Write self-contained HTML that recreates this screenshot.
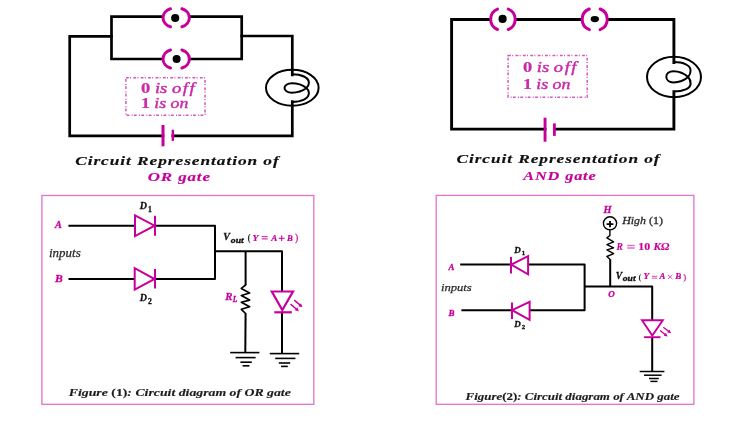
<!DOCTYPE html>
<html><head><meta charset="utf-8">
<style>
html,body{margin:0;padding:0;background:#fff;width:750px;height:430px;overflow:hidden}
svg{display:block;transform:translateZ(0)}
text{font-family:"Liberation Serif",serif;font-style:italic;font-weight:bold}
.m{fill:#c8009b}
.k{fill:#111}
.k2{fill:#1c1c1c;stroke:#1c1c1c;stroke-width:0.15}
.g{fill:#2a2a2a}
.w{stroke:#000;fill:none}
.mg{stroke:#c8009b;fill:none}
text.bx{font-weight:normal;fill:#c92aa6;stroke:#c92aa6;stroke-width:0.4}
tspan.up{font-style:normal;font-weight:bold;stroke-width:0.2}
text.th{stroke-width:0.3}
text.n{font-weight:normal}
text.u{font-style:normal}
text.k.th{stroke:#111}
text.m.th{stroke:#c8009b}
</style></head>
<body>
<svg width="750" height="430" viewBox="0 0 750 430">
<defs>
  <path id="fil" d="M-0.3,-13.5 C9,-13.5 16.6,-10.5 16.6,-5 C16.6,-2.7 15.5,-1 14.1,0.2 C10.5,3 5,4.9 -0.5,4.9 C-5,4.9 -7.8,2.6 -7.8,0.2 C-7.8,-2.2 -5,-4.5 -0.5,-4.5 C5,-4.5 10.5,-2.6 14.1,0.2 C15.5,1.3 16.6,3 16.6,5.3 C16.6,11 9,14.2 -0.3,14.2"/>
  <path id="fil2" d="M-0.3,-14.7 C9.5,-14.7 16.6,-11.5 16.6,-6.3 C16.6,-3.5 15.5,-1.3 14.1,0.2 C10.5,3.5 5,5.6 -0.5,5.6 C-5,5.6 -7.7,3 -7.7,0 C-7.7,-3 -5,-5.6 -0.5,-5.6 C5,-5.6 10.5,-3.2 14.1,0.2 C15.5,1.6 16.6,4 16.6,7 C16.6,11.5 9.5,14.8 -0.3,14.8"/>
</defs>

<!-- ===== OR circuit (top-left) ===== -->
<g class="w" stroke-width="2.7" stroke-linecap="square">
  <!-- outer loop -->
  <polyline points="111.5,36.3 69.7,36.3 69.7,135.8 163,135.8"/>
  <polyline points="172.8,135.8 292.3,135.8 292.3,101.5"/>
  <polyline points="241.7,36 292.3,36 292.3,74.8"/>
  <!-- inner parallel box -->
  <polyline points="162,16.7 111.5,16.7 111.5,59 162,59"/>
  <polyline points="190,16.7 241.7,16.7 241.7,59 190,59"/>
</g>
<!-- switches -->
<g stroke="#c8009b" stroke-width="3" fill="none" stroke-linecap="round">
  <path d="M170.5,8.8 A11 9.5 0 0 0 170.5,26.8"/>
  <path d="M181.9,8.8 A11 9.5 0 0 1 181.9,26.8"/>
  <path d="M170.5,50 A11 9.5 0 0 0 170.5,68"/>
  <path d="M181.9,50 A11 9.5 0 0 1 181.9,68"/>
</g>
<circle cx="175.2" cy="18" r="4.1" fill="#000"/>
<circle cx="176.6" cy="59" r="4" fill="#000"/>
<!-- bulb -->
<ellipse cx="292.3" cy="87.8" rx="26.3" ry="18" stroke="#000" stroke-width="2" fill="none"/>
<use href="#fil" transform="translate(292.3,87.8)" stroke="#000" stroke-width="2" fill="none"/>
<!-- battery -->
<rect x="161.5" y="125" width="3" height="21.3" fill="#c8009b"/>
<rect x="171.6" y="129.7" width="2.5" height="11.2" fill="#c8009b"/>
<!-- dashed box -->
<rect x="125.9" y="77.7" width="79.1" height="37.6" fill="none" stroke="#d458bb" stroke-width="1.5" stroke-dasharray="2.8 1.3 1 2.3"/>
<text x="141" y="92.7" font-size="14" class="m bx" textLength="55.3" lengthAdjust="spacingAndGlyphs"><tspan class="up">0</tspan> is <tspan letter-spacing="1.2">off</tspan></text>
<text x="141" y="108" font-size="14" class="m bx" textLength="47.3" lengthAdjust="spacingAndGlyphs"><tspan class="up">1</tspan> is on</text>
<text x="75.2" y="165.3" font-size="13" class="k" style="stroke:#111;stroke-width:0.15" letter-spacing="0.7" textLength="204.5" lengthAdjust="spacingAndGlyphs">Circuit Representation of</text>
<text x="147.7" y="180.8" font-size="13" class="m" style="stroke:#c8009b;stroke-width:0.15" letter-spacing="0.7" textLength="63.2" lengthAdjust="spacingAndGlyphs">OR gate</text>

<!-- ===== AND circuit (top-right) ===== -->
<g class="w" stroke-width="2.9" stroke-linecap="square">
  <polyline points="489.5,19.5 451.6,19.5 451.6,129.1 545,129.1"/>
  <polyline points="554.4,129.1 673.9,129.1 673.9,91.6"/>
  <polyline points="516,19.5 581,19.5"/>
  <polyline points="608,19.5 673.9,19.5 673.9,62.5"/>
</g>
<g stroke="#c8009b" stroke-width="3" fill="none" stroke-linecap="round">
  <path d="M497.5,9.1 A11 11 0 0 0 497.5,29.5"/>
  <path d="M508.3,9.1 A11 11 0 0 1 508.3,29.5"/>
  <path d="M589.3,9 A11 11 0 0 0 589.3,29.6"/>
  <path d="M600.1,9 A11 11 0 0 1 600.1,29.6"/>
</g>
<circle cx="502.6" cy="18.9" r="4.1" fill="#000"/>
<ellipse cx="594.8" cy="19.1" rx="4.2" ry="3.1" fill="#000"/>
<ellipse cx="674" cy="77" rx="27" ry="20.2" stroke="#000" stroke-width="2" fill="none"/>
<use href="#fil2" transform="translate(674,76.8)" stroke="#000" stroke-width="2" fill="none"/>
<rect x="543.6" y="117.7" width="2.9" height="24" fill="#c8009b"/>
<rect x="553" y="123.4" width="2.8" height="12.5" fill="#c8009b"/>
<rect x="508.1" y="55.5" width="79.1" height="41.8" fill="none" stroke="#d458bb" stroke-width="1.5" stroke-dasharray="2.8 1.3 1 2.3"/>
<text x="523" y="71.5" font-size="14" class="m bx" textLength="55.1" lengthAdjust="spacingAndGlyphs"><tspan class="up">0</tspan> is <tspan letter-spacing="1.2">off</tspan></text>
<text x="523" y="88.5" font-size="14" class="m bx" textLength="47.4" lengthAdjust="spacingAndGlyphs"><tspan class="up">1</tspan> is on</text>
<text x="456.5" y="163.3" font-size="13" class="k" style="stroke:#111;stroke-width:0.15" letter-spacing="0.7" textLength="204" lengthAdjust="spacingAndGlyphs">Circuit Representation of</text>
<text x="523.3" y="179.7" font-size="13" class="m" style="stroke:#c8009b;stroke-width:0.15" letter-spacing="0.7" textLength="73.3" lengthAdjust="spacingAndGlyphs">AND gate</text>

<!-- ===== Figure 1 ===== -->
<rect x="41.9" y="195.5" width="271.9" height="208.8" fill="none" stroke="#e272cc" stroke-width="1.3"/>
<g class="w" stroke-width="2" stroke-linecap="butt" stroke-linejoin="round">
  <polyline points="68.4,225.7 135,225.7"/>
  <polyline points="155,225.7 215,225.7 215,279 155,279"/>
  <polyline points="68.5,279 134.7,279"/>
  <polyline points="215,251.3 282,251.3 282,291.5"/>
  <polyline points="245.6,251.3 245.6,285"/>
  <polyline points="245.6,313.5 245.3,352.6"/>
  <polyline points="282,311.8 282,353.6"/>
</g>
<polyline points="245.6,285 241.3,288.4 249.6,293 241.3,295.5 249.6,300.1 241.3,302.2 249.6,306.8 241.3,309.3 245.6,313.5" fill="none" stroke="#000" stroke-width="1.7" stroke-linejoin="round" stroke-linecap="round"/>
<g stroke="#000" stroke-width="1.6">
  <line x1="230.2" y1="352.6" x2="259.4" y2="352.6"/>
  <line x1="235.6" y1="357.6" x2="255.6" y2="357.6"/>
  <line x1="240.4" y1="362.2" x2="251.8" y2="362.2"/>
  <line x1="242.6" y1="365.8" x2="249.4" y2="365.8"/>
  <line x1="269.8" y1="353.6" x2="299.2" y2="353.6"/>
  <line x1="275.2" y1="358.4" x2="295.4" y2="358.4"/>
  <line x1="278.8" y1="363" x2="290.2" y2="363"/>
  <line x1="281" y1="366.4" x2="287.8" y2="366.4"/>
</g>
<g stroke="#c8009b" stroke-width="2" fill="none">
  <polygon points="135,215.3 135,236.2 154.6,225.7"/>
  <line x1="155" y1="215.7" x2="155" y2="235.7"/>
  <polygon points="134.7,268.2 134.7,289.6 154.6,279"/>
  <line x1="155" y1="269" x2="155" y2="288.4"/>
  <polygon points="271.8,291.5 293,291.5 282.3,310" stroke-width="2.2"/>
  <line x1="274.3" y1="312.3" x2="291.8" y2="312.3" stroke-width="2.2"/>
  <line x1="294.2" y1="300.1" x2="299.9" y2="304.9" stroke-width="1.4"/>
  <line x1="290.5" y1="304.1" x2="296.3" y2="309" stroke-width="1.4"/>
</g>
<polygon points="302.5,307.2 298.3,306.2 300.9,303.2" fill="#c8009b"/>
<polygon points="298.9,311.3 294.7,310.3 297.3,307.3" fill="#c8009b"/>
<text x="55" y="227.5" font-size="10" class="m th" textLength="6.8" lengthAdjust="spacingAndGlyphs">A</text>
<text x="55.1" y="282" font-size="10" class="m th" textLength="7.7" lengthAdjust="spacingAndGlyphs">B</text>
<text x="49" y="257.3" font-size="11.5" class="g n" style="stroke:#2a2a2a;stroke-width:0.25" textLength="31.7" lengthAdjust="spacingAndGlyphs">inputs</text>
<text x="139.7" y="209" font-size="10" class="k th">D<tspan font-size="7.6" dy="2.6" dx="1" font-style="normal">1</tspan></text>
<text x="139.8" y="301.3" font-size="10" class="k th">D<tspan font-size="7.6" dy="2.2" dx="1" font-style="normal">2</tspan></text>
<text x="223.3" y="239.8" font-size="10" class="k th">V</text>
<text x="230.8" y="242.5" font-size="8.5" class="k th" textLength="13" lengthAdjust="spacingAndGlyphs">out</text>
<text x="247.6" y="240.8" font-size="9.5" class="g u">(</text>
<text x="252.6" y="240.6" font-size="9.2" class="m" style="stroke:#c8009b;stroke-width:0.2" textLength="6" lengthAdjust="spacingAndGlyphs">Y</text>
<path d="M261.7,236.7 H267.7 M261.7,238.8 H267.7" stroke="#d23cb0" stroke-width="1.3"/>
<text x="271.2" y="240.6" font-size="9.2" class="m" style="stroke:#c8009b;stroke-width:0.2" textLength="6" lengthAdjust="spacingAndGlyphs">A</text>
<path d="M278.7,238.3 H284.7 M281.7,235.5 V241.1" stroke="#c8009b" stroke-width="1.1"/>
<text x="286.9" y="240.6" font-size="9.2" class="m" style="stroke:#c8009b;stroke-width:0.2" textLength="5.8" lengthAdjust="spacingAndGlyphs">B</text>
<text x="294.9" y="241" font-size="9.5" class="m n u" style="stroke:#c8009b;stroke-width:0.2">)</text>
<text x="225.2" y="300" font-size="10.8" class="m th">R<tspan font-size="7.5" dy="1.7" dx="0.3">L</tspan></text>
<text x="68.8" y="395.8" font-size="10.5" class="k2" textLength="222" lengthAdjust="spacingAndGlyphs">Figure <tspan font-style="normal">(1)</tspan>: Circuit diagram of OR gate</text>

<!-- ===== Figure 2 ===== -->
<rect x="436.2" y="195.4" width="257.7" height="208.9" fill="none" stroke="#e272cc" stroke-width="1.3"/>
<g class="w" stroke-width="2" stroke-linecap="butt" stroke-linejoin="round">
  <polyline points="460.2,264.6 511,264.6"/>
  <polyline points="528.1,264.6 584.6,264.6 584.6,310.2 529.6,310.2"/>
  <polyline points="461.4,310.2 512,310.2"/>
  <polyline points="584.6,286.4 652.2,286.4 652.2,320.3"/>
  <polyline points="610.2,259.2 610.2,286.4"/>
  
  <polyline points="652.2,337.2 652.2,371.5"/>
</g>
<polyline points="609.9,229.9 609.9,235.5 606.9,237.9 613.6,241.9 606.9,244.6 613.6,247.8 606.9,249.8 613.6,253.7 606.9,256.5 609.9,259.2" fill="none" stroke="#000" stroke-width="1.4" stroke-linejoin="round" stroke-linecap="round"/>
<circle cx="610" cy="223.3" r="6.6" fill="none" stroke="#000" stroke-width="1.4"/>
<path d="M606.6,224.1 H613.4 M610,220.9 V227.3" stroke="#000" stroke-width="1.8"/>
<g stroke="#000" stroke-width="1.5">
  <line x1="639.7" y1="371.5" x2="664.4" y2="371.5"/>
  <line x1="644" y1="375.2" x2="661.6" y2="375.2"/>
  <line x1="649" y1="378.5" x2="658.8" y2="378.5"/>
  <line x1="650.4" y1="381.4" x2="657.5" y2="381.4"/>
</g>
<g stroke="#c8009b" stroke-width="2" fill="none">
  <polygon points="511.2,264.6 528.1,256.2 528.1,274.3"/>
  <line x1="511" y1="256.9" x2="511" y2="273.4"/>
  <polygon points="512.2,310.2 529.6,301.8 529.6,319.8"/>
  <line x1="512" y1="302.5" x2="512" y2="319"/>
  <polygon points="642,320.3 662.8,320.3 652.3,335.6" stroke-width="1.9"/>
  <line x1="644.1" y1="337.2" x2="660.5" y2="337.2" stroke-width="1.9"/>
  <line x1="663.3" y1="327.2" x2="668.6" y2="331.3" stroke-width="1.3"/>
  <line x1="660.1" y1="330.4" x2="665.1" y2="334.5" stroke-width="1.3"/>
</g>
<polygon points="671.1,333.3 667.2,332.6 669.4,329.6" fill="#c8009b"/>
<polygon points="667.6,336.5 663.7,335.8 665.9,332.8" fill="#c8009b"/>
<text x="448.6" y="270" font-size="8.8" class="m th">A</text>
<text x="448.6" y="315.9" font-size="9" class="m th">B</text>
<text x="440.9" y="290.5" font-size="11" class="g n" style="stroke:#2a2a2a;stroke-width:0.25" textLength="30.8" lengthAdjust="spacingAndGlyphs">inputs</text>
<text x="514.2" y="252.9" font-size="9" class="k th">D<tspan font-size="6.8" dy="1.8" dx="1" font-style="normal">1</tspan></text>
<text x="514.2" y="326.7" font-size="9" class="k th">D<tspan font-size="6.8" dy="1.8" dx="1" font-style="normal">2</tspan></text>
<text x="603.4" y="212.9" font-size="10.3" class="m th">H</text>
<text x="622.2" y="223.6" font-size="10.5" class="g n" style="stroke:#2a2a2a;stroke-width:0.3" textLength="40.7" lengthAdjust="spacingAndGlyphs">High <tspan font-style="normal">(1)</tspan></text>
<text x="616.6" y="249.7" font-size="9.5" class="m" style="stroke:#c8009b;stroke-width:0.15">R</text>
<path d="M627.2,245.4 H634.7 M627.2,248.1 H634.7" stroke="#e070c8" stroke-width="1.5"/>
<text x="638.2" y="249.7" font-size="9.5" class="m u" style="stroke:#c8009b;stroke-width:0.15" textLength="11.9" lengthAdjust="spacingAndGlyphs">10</text>
<text x="653.6" y="249.7" font-size="9.5" class="m" style="stroke:#c8009b;stroke-width:0.15" textLength="15.9" lengthAdjust="spacingAndGlyphs">KΩ</text>
<text x="615.8" y="278.9" font-size="9.5" class="k th">V</text>
<text x="622.8" y="280.8" font-size="8" class="k th" textLength="12.8" lengthAdjust="spacingAndGlyphs">out</text>
<text x="638.6" y="280" font-size="8.5" class="g u">(</text>
<text x="643.4" y="279.4" font-size="7.8" class="m" style="stroke:#c8009b;stroke-width:0.2" textLength="5.6" lengthAdjust="spacingAndGlyphs">Y</text>
<path d="M651.8,276.4 H657.2 M651.8,278.1 H657.2" stroke="#e070c8" stroke-width="1.2"/>
<text x="659.6" y="279.4" font-size="7.8" class="m" style="stroke:#c8009b;stroke-width:0.2" textLength="5.9" lengthAdjust="spacingAndGlyphs">A</text>
<path d="M668,274.8 L672.4,279 M672.4,274.8 L668,279" stroke="#d040b0" stroke-width="0.9"/>
<text x="675.2" y="279.4" font-size="7.8" class="m" style="stroke:#c8009b;stroke-width:0.2" textLength="6" lengthAdjust="spacingAndGlyphs">B</text>
<text x="683.3" y="280" font-size="8.5" class="m n u" style="stroke:#c8009b;stroke-width:0.2">)</text>
<text x="608.3" y="296.5" font-size="9" class="m th">O</text>
<text x="465.5" y="399.5" font-size="10" class="k2" textLength="214" lengthAdjust="spacingAndGlyphs">Figure<tspan font-style="normal">(2)</tspan>: Circuit diagram of AND gate</text>
</svg>
</body></html>
